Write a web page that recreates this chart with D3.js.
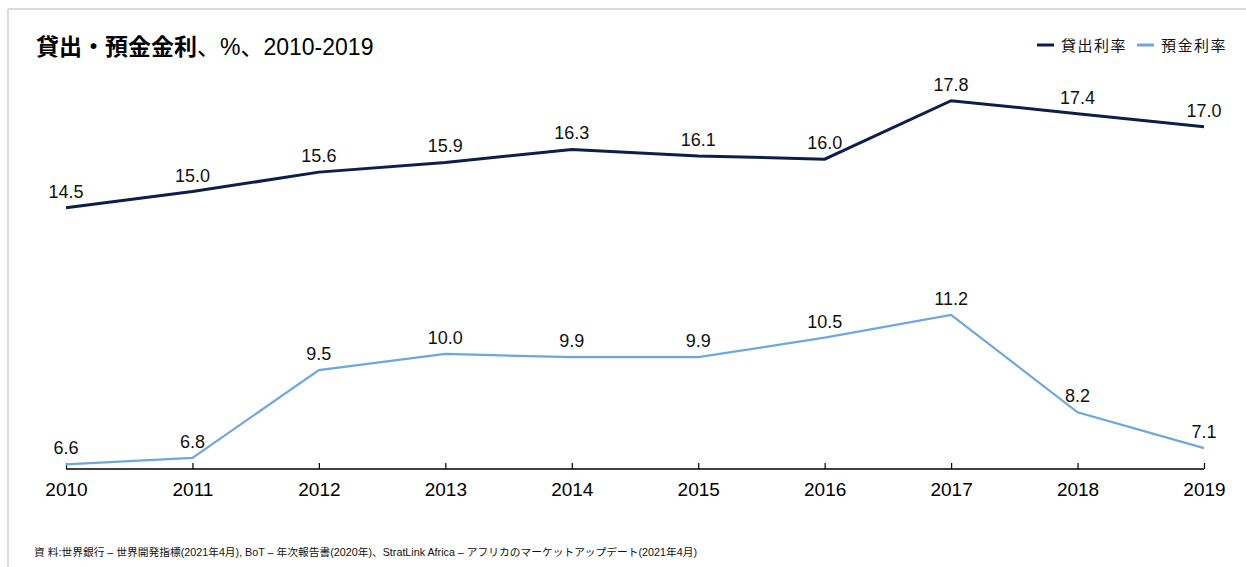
<!DOCTYPE html>
<html lang="ja">
<head>
<meta charset="utf-8">
<title>貸出・預金金利</title>
<script src="https://d3js.org/d3.v7.min.js"></script>
<style>
  body { margin: 0; background: #fff; font-family: "Liberation Sans", Arial, "Noto Sans CJK JP", sans-serif; }
</style>
</head>
<body>
<script>
// data
var years = [2010, 2011, 2012, 2013, 2014, 2015, 2016, 2017, 2018, 2019];
var lendingRate = [14.5, 15.0, 15.6, 15.9, 16.3, 16.1, 16.0, 17.8, 17.4, 17.0];
var depositRate = [6.6, 6.8, 9.5, 10.0, 9.9, 9.9, 10.5, 11.2, 8.2, 7.1];
var seriesNames = ["貸出利率", "預金利率"];
var seriesColors = ["#0c1f4a", "#6fa7dc"];

var w = 1246, h = 567;

var svg = d3.select("body").append("svg")
  .attr("width", w)
  .attr("height", h);

// light frame (top + left edges)
svg.append("line").attr("x1", 8).attr("x2", w).attr("y1", 9).attr("y2", 9)
  .attr("stroke", "#dcdcdc").attr("stroke-width", 2);
svg.append("line").attr("x1", 8).attr("x2", 8).attr("y1", 9).attr("y2", h)
  .attr("stroke", "#dcdcdc").attr("stroke-width", 2);

// scales
var xScale = d3.scalePoint()
  .domain(years)
  .range([66, 1204]);

var yScale = d3.scaleLinear()
  .domain([6.6, 17.8])
  .range([464.3, 100.7]);

var axisY = yScale(6.455);

// title
var title = svg.append("text")
  .attr("x", 36).attr("y", 55)
  .attr("font-size", 23)
  .attr("fill", "#000");
title.append("tspan").attr("font-weight", "bold")
  .attr("font-family", "'Noto Sans CJK JP', sans-serif")
  .text("貸出・預金金利");
title.append("tspan").text("、%、2010-2019");

// legend
var legendX = [1037, 1137];
seriesNames.forEach(function(name, i) {
  var g = svg.append("g").attr("transform", "translate(" + legendX[i] + ",45)");
  g.append("line").attr("x1", 0).attr("x2", 17).attr("y1", 0).attr("y2", 0)
    .attr("stroke", seriesColors[i]).attr("stroke-width", 3);
  g.append("text").attr("x", 24).attr("y", 5.5)
    .attr("font-size", 15)
    .attr("letter-spacing", 1.5)
    .attr("font-family", "'Noto Sans CJK JP', sans-serif")
    .attr("fill", "#111")
    .text(name);
});

// x axis
var xAxis = d3.axisBottom(xScale).tickSize(0).tickPadding(0);
var axisG = svg.append("g")
  .attr("transform", "translate(0," + axisY + ")")
  .call(xAxis);
axisG.select(".domain").remove();
axisG.append("line")
  .attr("x1", xScale(years[0])).attr("x2", xScale(years[years.length - 1]))
  .attr("stroke", "#000").attr("stroke-width", 1.5);
axisG.selectAll(".tick").append("line")
  .attr("y1", 0).attr("y2", -6)
  .attr("stroke", "#000").attr("stroke-width", 1.2);
axisG.selectAll(".tick text")
  .attr("y", 27).attr("dy", 0)
  .attr("font-size", 19)
  .attr("font-family", "'Liberation Sans', Arial, sans-serif")
  .attr("fill", "#000");

// lines
var line = d3.line()
  .x(function(d, i) { return xScale(years[i]); })
  .y(function(d) { return yScale(d); });

[lendingRate, depositRate].forEach(function(series, s) {
  svg.append("path")
    .datum(series)
    .attr("fill", "none")
    .attr("stroke", seriesColors[s])
    .attr("stroke-width", s === 0 ? 3 : 2.2)
    .attr("stroke-linejoin", "miter")
    .attr("d", line);

  svg.selectAll(null)
    .data(series)
    .enter()
    .append("text")
    .attr("x", function(d, i) { return xScale(years[i]); })
    .attr("y", function(d) { return yScale(d) - 10; })
    .attr("text-anchor", "middle")
    .attr("font-size", 18)
    .attr("font-family", "'Liberation Sans', Arial, sans-serif")
    .attr("fill", "#111")
    .text(function(d) { return d.toFixed(1); });
});

// source note
svg.append("text")
  .attr("x", 34).attr("y", 556)
  .attr("font-size", 10.5)
  .attr("font-family", "'Liberation Sans', 'Noto Sans CJK JP', sans-serif")
  .attr("fill", "#111")
  .attr("textLength", 663)
  .attr("lengthAdjust", "spacingAndGlyphs")
  .text("資 料:世界銀行 – 世界開発指標(2021年4月), BoT – 年次報告書(2020年)、StratLink Africa – アフリカのマーケットアップデート(2021年4月)");
</script>
</body>
</html>
